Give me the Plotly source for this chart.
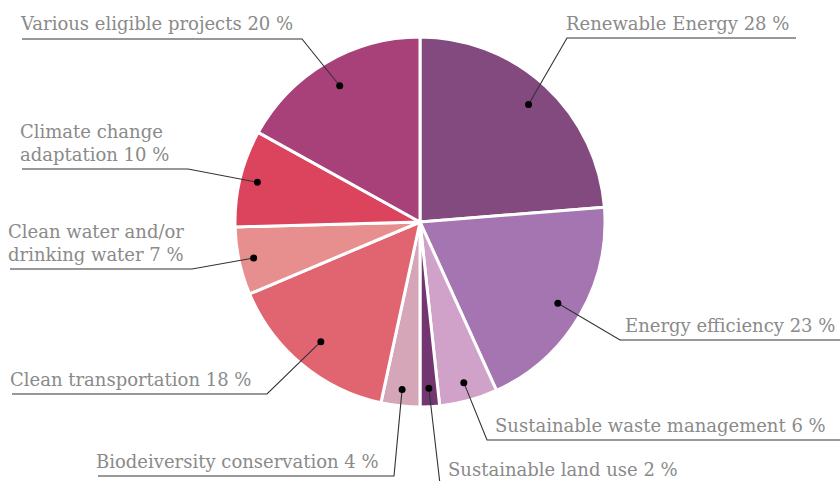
import math
import plotly.graph_objects as go

# ---- data ----
categories = ["Renewable Energy", "Energy efficiency", "Sustainable waste management",
              "Sustainable land use", "Biodeiversity conservation", "Clean transportation",
              "Clean water and/or drinking water", "Climate change adaptation",
              "Various eligible projects"]
values = [28, 23, 6, 2, 4, 18, 7, 10, 20]
label_breaks = {"Clean water and/or drinking water": "Clean water and/or<br>drinking water",
                "Climate change adaptation": "Climate change<br>adaptation"}

# ---- style / layout ----
colors = ["#834A80", "#A475B1", "#D0A2CA", "#733670", "#D4A6B8",
          "#E06570", "#E78E8E", "#DC435C", "#A8407A"]
W, H = 840, 481
CX, CY, R = 420, 222, 185
dot_r = [0.865, 0.865, 0.90, 0.90, 0.91, 0.84, 0.92, 0.905, 0.855]
# underline x0, x1, y, elbow x, text x   (pixels)
label_pos = [
    (567, 796, 38, 567, 564),
    (620, 840, 340, 620, 623),
    (487, 840, 440, 487, 493),
    (440, 700, 484, 440, 446),
    (98, 394, 476, 394, 94),
    (12, 267, 394, 267, 8),
    (10, 192, 269, 192, 6),
    (22, 188, 169, 188, 18),
    (22, 302, 39, 302, 18),
]
FONT = "DejaVu Serif"
FS = 18
TXT = "#8a8a8a"
LINE = "#333333"


def px(x, y):
    return x / W, 1 - y / H


fig = go.Figure()
fig.add_trace(go.Pie(
    labels=categories, values=values, sort=False, direction="clockwise", rotation=0,
    marker=dict(colors=colors, line=dict(color="white", width=3)),
    textinfo="none", hoverinfo="label+percent", showlegend=False,
    domain=dict(x=[(CX - R) / W, (CX + R) / W], y=[(H - CY - R) / H, (H - CY + R) / H]),
))

total = sum(values)
shapes, annotations = [], []
cum = 0
for i, (cat, v) in enumerate(zip(categories, values)):
    mid = (cum + v / 2) / total * 2 * math.pi
    cum += v
    dx = CX + R * dot_r[i] * math.sin(mid)
    dy = CY - R * dot_r[i] * math.cos(mid)
    x0, x1, ly, ex, tx = label_pos[i]
    ox = x1 if ex == x0 else x0
    p1 = px(dx, dy); p2 = px(ex, ly); p3 = px(ox, ly)
    shapes.append(dict(type="path", xref="paper", yref="paper", layer="above",
                       path=f"M {p1[0]} {p1[1]} L {p2[0]} {p2[1]} L {p3[0]} {p3[1]}",
                       line=dict(color=LINE, width=1.1)))
    c0 = px(dx - 3.5, dy - 3.5); c1 = px(dx + 3.5, dy + 3.5)
    shapes.append(dict(type="circle", xref="paper", yref="paper", layer="above",
                       x0=c0[0], y0=c1[1], x1=c1[0], y1=c0[1],
                       fillcolor="black", line=dict(color="black", width=0)))
    text = f"{label_breaks.get(cat, cat)} {v} %"
    tp = px(tx, ly - 2.5)
    annotations.append(dict(x=tp[0], y=tp[1], xref="paper", yref="paper",
                            xanchor="left", yanchor="bottom", align="left",
                            text=text, showarrow=False,
                            font=dict(family=FONT, size=FS, color=TXT)))

fig.update_layout(width=W, height=H, margin=dict(l=0, r=0, t=0, b=0),
                  paper_bgcolor="white", plot_bgcolor="white",
                  shapes=shapes, annotations=annotations)
fig.write_html("out.html", config={"displayModeBar": False},
               post_script="document.body.style.margin='0';")
